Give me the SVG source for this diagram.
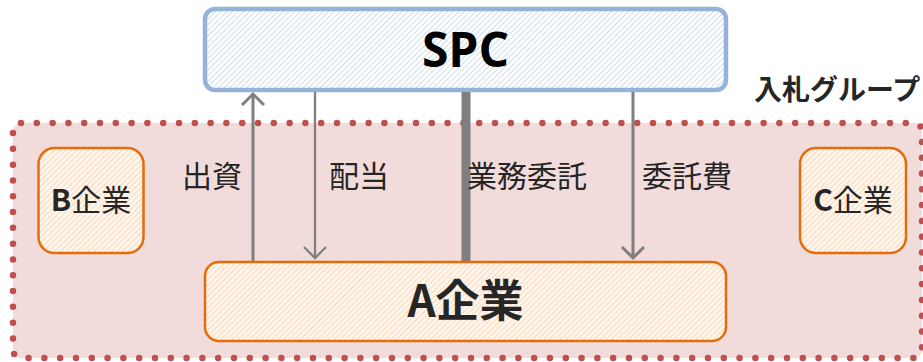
<svg xmlns="http://www.w3.org/2000/svg" width="923" height="362" viewBox="0 0 923 362">
  <defs>
    <pattern id="hatchBlue" patternUnits="userSpaceOnUse" width="4" height="4" patternTransform="rotate(45)">
      <rect width="4" height="4" fill="#ffffff"/>
      <line x1="0" y1="0" x2="0" y2="4" stroke="#c3d3e8" stroke-width="1.6"/>
    </pattern>
    <pattern id="hatchOrange" patternUnits="userSpaceOnUse" width="4" height="4" patternTransform="rotate(45)">
      <rect width="4" height="4" fill="#fef5ec"/>
      <line x1="0" y1="0" x2="0" y2="4" stroke="#f9d2ae" stroke-width="1.6"/>
    </pattern>
  </defs>
  <style>
    .region { fill: #f2dcdb; stroke: #c0504d; stroke-width: 6.5; stroke-linecap: round; stroke-dasharray: 0 15.8; }
    .spc { fill: url(#hatchBlue); stroke: #95b3d7; stroke-width: 4.5; }
    .org { fill: url(#hatchOrange); stroke: #e46c0a; stroke-width: 2.5; }
    .jp { font-family: "Noto Sans CJK JP", "Noto Sans", sans-serif; fill: #262626; }
    .lbl { font-size: 30px; }
    .bold { font-weight: bold; }
    .conn { fill: none; stroke: #7f7f7f; stroke-width: 3; stroke-linecap: butt; stroke-linejoin: miter; }
    .thin { stroke-width: 2.3; }
    .thick { stroke-width: 9; }
  </style>

  <g id="group-nyusatsu">
    <rect class="region" x="13" y="123" width="909" height="235" rx="8"/>
    <text class="jp bold" x="754" y="100" font-size="28">入札グループ</text>
  </g>

  <g id="node-spc">
    <rect class="spc" x="205" y="9" width="521" height="81" rx="10"/>
    <text x="465.5" y="67" text-anchor="middle" font-family="'Open Sans', 'Liberation Sans', sans-serif" font-weight="bold" font-size="48" fill="#000000">SPC</text>
  </g>

  <g id="connectors">
    <g id="conn-shusshi">
      <path class="conn" d="M253 261 V94"/>
      <path class="conn" d="M242 105 L253 94 L264 105"/>
    </g>
    <g id="conn-haito">
      <path class="conn thin" d="M315 92 V258"/>
      <path class="conn thin" d="M304 247 L315 258 L326 247"/>
    </g>
    <g id="conn-gyomu">
      <path class="conn thick" d="M466 92 V261"/>
    </g>
    <g id="conn-itakuhi">
      <path class="conn" d="M633 92 V258"/>
      <path class="conn" d="M622 247 L633 258 L644 247"/>
    </g>
    <text class="jp lbl" x="182" y="187">出資</text>
    <text class="jp lbl" x="329" y="187">配当</text>
    <text class="jp lbl" x="467" y="187">業務委託</text>
    <text class="jp lbl" x="642" y="187">委託費</text>
  </g>

  <g id="node-b">
    <rect class="org" x="38.5" y="148" width="105" height="105" rx="16"/>
    <text class="jp lbl" x="91" y="211" text-anchor="middle"><tspan font-weight="bold">B</tspan>企業</text>
  </g>

  <g id="node-c">
    <rect class="org" x="800" y="148" width="106" height="105" rx="16"/>
    <text class="jp lbl" x="853" y="211" text-anchor="middle"><tspan font-weight="bold">C</tspan>企業</text>
  </g>

  <g id="node-a">
    <rect class="org" x="205" y="262" width="521" height="79" rx="14"/>
    <text class="jp bold" x="465.5" y="317" text-anchor="middle" font-size="44">A企業</text>
  </g>
</svg>
